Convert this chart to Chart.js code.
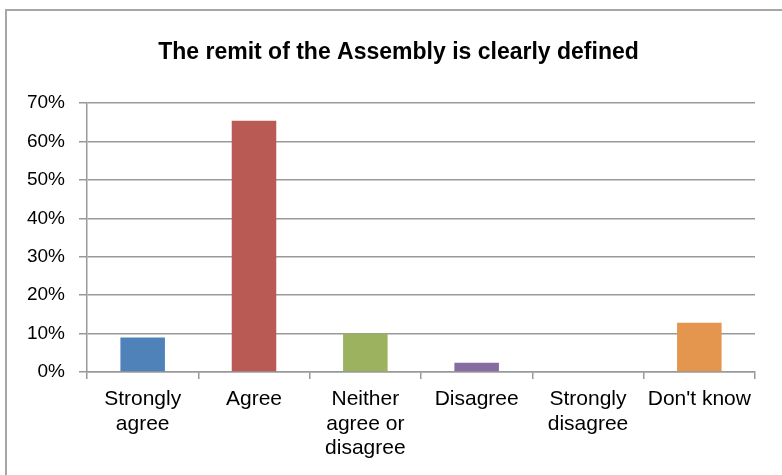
<!DOCTYPE html>
<html lang="en">
<head>
    <meta charset="UTF-8">
    <title>The remit of the Assembly is clearly defined</title>
    <script src="https://cdn.jsdelivr.net/npm/chart.js"></script>
    <style>
        html, body {
            margin: 0;
            overflow: hidden;
            background-color: #ffffff;
        }
        #frame {
            position: absolute;
            left: 5px;
            top: 9px;
            width: 900px;
            height: 600px;
            border-left: 2px solid #a6a6a6;
            border-top: 2px solid #a6a6a6;
        }
        #remitChart {
            position: absolute;
            left: 0;
            top: 0;
        }
    </style>
</head>
<body>
    <div id="frame"></div>
    <canvas id="remitChart" width="782" height="475"></canvas>

    <script>
        const chartTitle = 'The remit of the Assembly is clearly defined';
        const categories = [
            ['Strongly', 'agree'],
            'Agree',
            ['Neither', 'agree or', 'disagree'],
            'Disagree',
            ['Strongly', 'disagree'],
            "Don't know"
        ];
        const percentages = [9.0, 65.4, 10.0, 2.4, 0, 12.8];
        const barColors = ['#5082BA', '#BA5A55', '#9CB25E', '#866CA0', '#4BACC6', '#E4964E'];
        const yTicks = [0, 10, 20, 30, 40, 50, 60, 70];

        const fontFamily = '"Liberation Sans", Arial, sans-serif';
        const gridColor = '#999999';

        let ctx = document.getElementById('remitChart').getContext('2d');
        let remitChart = new Chart(ctx, {
            type: 'bar',
            data: {
                labels: categories,
                datasets: [{
                    data: percentages,
                    backgroundColor: barColors,
                    borderWidth: 0,
                    categoryPercentage: 1.0,
                    barPercentage: 0.4
                }]
            },
            options: {
                responsive: false,
                devicePixelRatio: 1,
                animation: false,
                layout: {
                    padding: { top: 0, right: 0, bottom: 0, left: 15 }
                },
                plugins: {
                    legend: { display: false },
                    tooltip: { enabled: false },
                    title: {
                        display: true,
                        text: chartTitle,
                        color: '#000000',
                        font: { family: fontFamily, size: 23, weight: 'bold', lineHeight: 1.2 },
                        padding: { top: 38.5, bottom: 36.9 }
                    }
                },
                scales: {
                    x: {
                        grid: {
                            offset: true,
                            drawOnChartArea: false,
                            drawTicks: true,
                            tickLength: 7,
                            color: gridColor,
                            lineWidth: 1.5
                        },
                        border: { display: true, color: gridColor, width: 1.5 },
                        ticks: {
                            color: '#000000',
                            padding: 8.5,
                            maxRotation: 0,
                            autoSkip: false,
                            font: { family: fontFamily, size: 21, lineHeight: 1.15 }
                        },
                        afterFit: function (scale) { scale.height = 103; }
                    },
                    y: {
                        min: 0,
                        max: 70,
                        afterBuildTicks: function (scale) {
                            scale.ticks = yTicks.map(v => ({ value: v }));
                        },
                        grid: {
                            drawTicks: true,
                            tickLength: 8,
                            color: gridColor,
                            lineWidth: 1.5
                        },
                        border: { display: true, color: gridColor, width: 1.5 },
                        ticks: {
                            color: '#000000',
                            padding: 14,
                            font: { family: fontFamily, size: 19 },
                            callback: v => v + '%'
                        },
                        afterFit: function (scale) { scale.width = 72; }
                    },
                    // empty right-hand axis: keeps the plot ending at x=755 without narrowing the title box
                    spacer: {
                        position: 'right',
                        grid: { display: false },
                        border: { display: false },
                        ticks: { display: false },
                        afterFit: function (scale) { scale.width = 27; }
                    }
                }
            }
        });
    </script>
</body>
</html>
